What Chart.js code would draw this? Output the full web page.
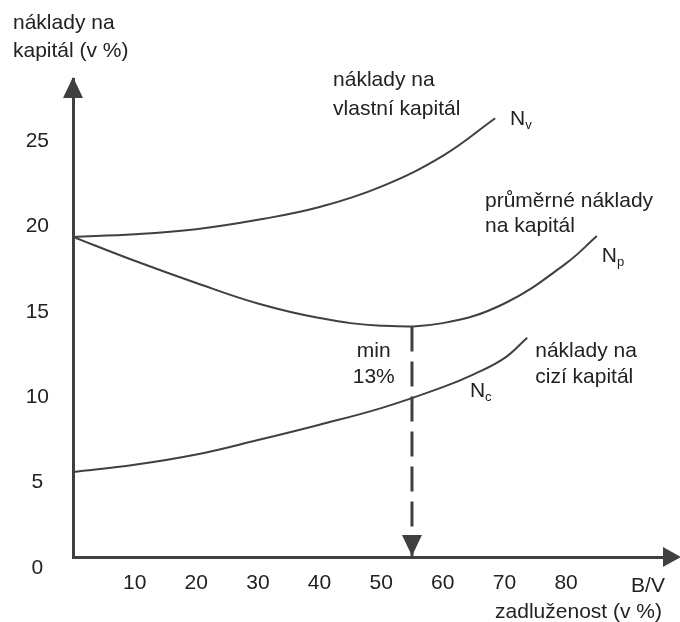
<!DOCTYPE html>
<html lang="cs">
<head>
<meta charset="utf-8">
<title>Náklady na kapitál</title>
<script src="https://cdn.jsdelivr.net/npm/chart.js@4.4.1/dist/chart.umd.min.js"></script>
<style>
  html, body { margin: 0; padding: 0; background: #fff; }
</style>
</head>
<body>
<canvas id="graf" width="680" height="622"></canvas>
<script>
// hodnoty
const xTicks = [10, 20, 30, 40, 50, 60, 70, 80];
const yTicks = [0, 5, 10, 15, 20, 25];

// náklady na vlastní kapitál (Nv)
const nvX = [0, 10, 20, 30, 40, 50, 60, 68.5];
const nvY = [18.75, 18.9, 19.2, 19.75, 20.5, 21.7, 23.5, 25.7];

// průměrné náklady na kapitál (Np)
const npX = [0, 10, 20, 30, 40, 50, 60, 70, 80, 85];
const npY = [18.75, 17.35, 16.05, 14.85, 14.0, 13.55, 13.7, 14.85, 17.2, 18.8];

// náklady na cizí kapitál (Nc)
const ncX = [0, 10, 20, 30, 40, 50, 60, 65, 70, 73.7];
const ncY = [4.98, 5.4, 6.0, 6.85, 7.75, 8.72, 9.95, 10.7, 11.65, 12.85];

// minimum průměrných nákladů
const minX = 55;
const minY = 13.5;

const barvaCar = '#404040';
const barvaTextu = '#222';
const pismo = '"Liberation Sans", Arial, sans-serif';

// popisky v grafu (souřadnice v jednotkách os)
const texty = [
    { t: 'náklady na', x: 42.2, y: 27.6 },
    { t: 'vlastní kapitál', x: 42.2, y: 25.9 },
    { t: 'průměrné náklady', x: 66.85, y: 20.5 },
    { t: 'na kapitál', x: 66.85, y: 19.04 },
    { t: 'min', x: 48.8, y: 11.72, stred: true },
    { t: '13%', x: 48.8, y: 10.19, stred: true },
    { t: 'náklady na', x: 75.0, y: 11.72 },
    { t: 'cizí kapitál', x: 75.0, y: 10.19 }
];
const znacky = [
    { n: 'N', s: 'v', x: 70.9, y: 25.3 },
    { n: 'N', s: 'p', x: 85.8, y: 17.3 },
    { n: 'N', s: 'c', x: 64.4, y: 9.37 }
];

function body(xs, ys) {
    return xs.map((x, i) => ({ x: x, y: ys[i] }));
}

function sipka(ctx, hx, hy, dx, dy, delka, sirka) {
    // hx, hy = hrot; dx, dy = směr šipky
    const bx = hx - dx * delka, by = hy - dy * delka;
    ctx.beginPath();
    ctx.moveTo(hx, hy);
    ctx.lineTo(bx - dy * sirka / 2, by + dx * sirka / 2);
    ctx.lineTo(bx + dy * sirka / 2, by - dx * sirka / 2);
    ctx.closePath();
    ctx.fill();
}

const popisky = {
    id: 'popisky',
    afterDraw(chart) {
        const { ctx, chartArea: a, scales: { x, y } } = chart;
        ctx.save();

        // šipky os a přerušované čáry
        ctx.fillStyle = barvaCar;
        sipka(ctx, a.left, a.top - 2, 0, -1, 21, 20);
        sipka(ctx, a.right + 4, a.bottom, 1, 0, 18, 20);
        sipka(ctx, x.getPixelForValue(minX), y.getPixelForValue(0) - 1, 0, 1, 21, 20);

        ctx.fillStyle = barvaTextu;
        ctx.font = '21px ' + pismo;
        ctx.textBaseline = 'alphabetic';

        texty.forEach(p => {
            ctx.textAlign = p.stred ? 'center' : 'left';
            ctx.fillText(p.t, x.getPixelForValue(p.x), y.getPixelForValue(p.y));
        });

        znacky.forEach(p => {
            const px = x.getPixelForValue(p.x), py = y.getPixelForValue(p.y);
            ctx.textAlign = 'left';
            ctx.font = '21px ' + pismo;
            ctx.fillText(p.n, px, py);
            const w = ctx.measureText(p.n).width;
            ctx.font = '13px ' + pismo;
            ctx.fillText(p.s, px + w, py + 4);
        });

        // názvy os
        ctx.font = '21px ' + pismo;
        ctx.textAlign = 'left';
        ctx.fillText('náklady na', 13, 29);
        ctx.fillText('kapitál (v %)', 13, 57);

        ctx.textAlign = 'center';
        ctx.fillText('B/V', x.getPixelForValue(93.3), a.bottom + 35);
        ctx.textAlign = 'right';
        ctx.fillText('zadluženost (v %)', a.right - 15, a.bottom + 61);

        ctx.restore();
    }
};

const ctx = document.getElementById('graf').getContext('2d');
const graf = new Chart(ctx, {
    type: 'line',
    data: {
        datasets: [
            { label: 'Nv', data: body(nvX, nvY), borderColor: barvaCar, borderWidth: 2 },
            { label: 'Np', data: body(npX, npY), borderColor: barvaCar, borderWidth: 2 },
            { label: 'Nc', data: body(ncX, ncY), borderColor: barvaCar, borderWidth: 2 },
            {
                label: 'min',
                data: [{ x: minX, y: minY }, { x: minX, y: 0 }],
                borderColor: barvaCar,
                borderWidth: 3,
                borderDash: [25, 10],
                tension: 0
            }
        ]
    },
    options: {
        responsive: false,
        animation: false,
        layout: { padding: { top: 79, right: 3, left: 0, bottom: 0 } },
        elements: {
            point: { radius: 0 },
            line: { tension: 0.4, fill: false }
        },
        plugins: {
            legend: { display: false },
            tooltip: { enabled: false }
        },
        font: { family: pismo, size: 21 },
        color: barvaTextu,
        scales: {
            x: {
                type: 'linear',
                min: 0,
                max: 98,
                grid: { display: false, drawTicks: false },
                border: { display: true, color: barvaCar, width: 3 },
                afterBuildTicks: s => { s.ticks = xTicks.map(v => ({ value: v })); },
                afterFit: s => { s.height = 65; },
                ticks: {
                    padding: 14,
                    color: barvaTextu,
                    font: { family: pismo, size: 21 },
                    maxRotation: 0
                }
            },
            y: {
                type: 'linear',
                min: 0,
                max: 28,
                grid: { display: false, drawTicks: false },
                border: { display: true, color: barvaCar, width: 3 },
                afterBuildTicks: s => { s.ticks = yTicks.map(v => ({ value: v })); },
                afterFit: s => { s.width = 73; },
                ticks: {
                    padding: 24,
                    labelOffset: 11,
                    crossAlign: 'center',
                    color: barvaTextu,
                    font: { family: pismo, size: 21 }
                }
            }
        }
    },
    plugins: [popisky]
});
</script>
</body>
</html>
